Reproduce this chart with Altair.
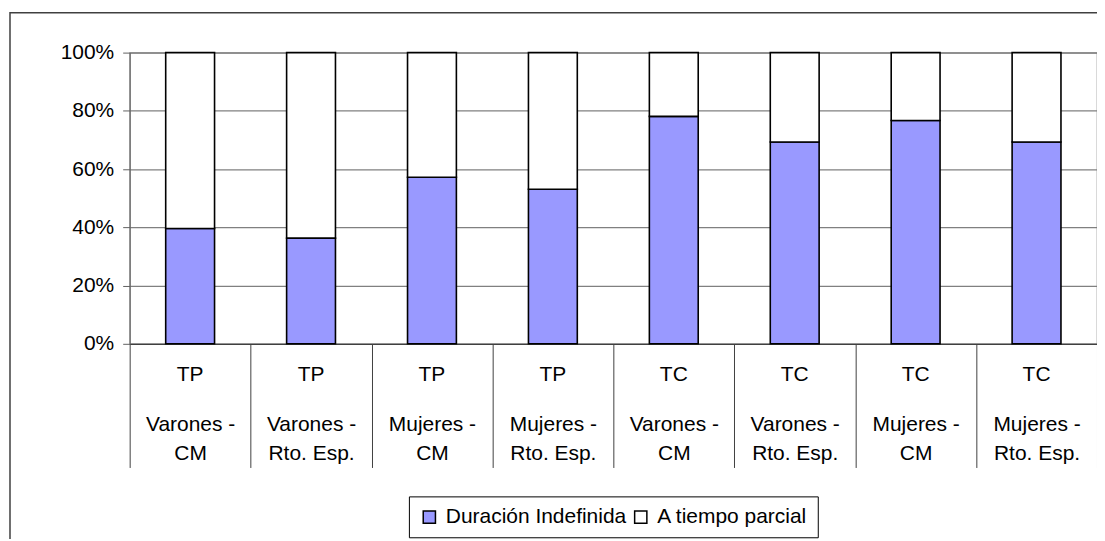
import altair as alt
import pandas as pd

# --- data ---
jornada = ["TP", "TP", "TP", "TP", "TC", "TC", "TC", "TC"]
colectivo = ["Varones -", "Varones -", "Mujeres -", "Mujeres -",
             "Varones -", "Varones -", "Mujeres -", "Mujeres -"]
regimen = ["CM", "Rto. Esp.", "CM", "Rto. Esp.", "CM", "Rto. Esp.", "CM", "Rto. Esp."]
duracion_indefinida = [39.6, 36.3, 57.2, 53.1, 78.1, 69.3, 76.7, 69.3]
tiempo_parcial = [60.4, 63.7, 42.8, 46.9, 21.9, 30.7, 23.3, 30.7]
series = ["Duración Indefinida", "A tiempo parcial"]
colors = ["#9999FF", "#FFFFFF"]
y_ticks = [0, 20, 40, 60, 80, 100]

# category key: "<jornada>#<colectivo>|<regimen>"
categories = [f"{j}#{c}|{r}" for j, c, r in zip(jornada, colectivo, regimen)]

rows = []
for cat, d, p in zip(categories, duracion_indefinida, tiempo_parcial):
    rows.append({"cat": cat, "serie": series[0], "valor": d, "orden": 0})
    rows.append({"cat": cat, "serie": series[1], "valor": p, "orden": 1})
df = pd.DataFrame(rows)
df_jornada = pd.DataFrame({"cat": categories, "jornada": jornada})

W, H = 970, 292
FONT = "Liberation Sans"
FS = 21

x_enc = alt.X("cat:N", sort=categories,
              scale=alt.Scale(paddingInner=0, paddingOuter=0),
              axis=alt.Axis(title=None, labelAngle=0, tickBand="extent",
                            tickSize=124, tickColor="#404040", tickWidth=1,
                            domainColor="#404040", domainWidth=1.2,
                            labelExpr="isValid(datum.value) ? split(split(datum.value, '#')[1], '|') : ''",
                            labelFont=FONT, labelFontSize=FS, labelColor="black",
                            labelLineHeight=29, labelPadding=-54,
                            labelBaseline="top", grid=False))

frame = alt.Chart(alt.Data(values=[{"f": 1}])).mark_rect(
    fill=None, stroke="#404040", strokeWidth=1.5
).encode(
    x=alt.value(-120), x2=alt.value(3000), y=alt.value(-40), y2=alt.value(3000)
)

bars = alt.Chart(df).mark_bar(
    stroke="black", strokeWidth=1.6, width=alt.RelativeBandSize(0.404)
).encode(
    x=x_enc,
    y=alt.Y("valor:Q", stack="zero",
            scale=alt.Scale(domain=[0, 100], nice=False),
            axis=alt.Axis(title=None, values=y_ticks,
                          labelExpr="datum.value + '%'",
                          labelFont=FONT, labelFontSize=FS, labelColor="black",
                          labelPadding=9, tickSize=7, tickColor="#606060",
                          domainColor="#606060", grid=True,
                          gridColor="#808080", gridWidth=1.2)),
    color=alt.Color("serie:N",
                    scale=alt.Scale(domain=series, range=colors),
                    legend=alt.Legend(title=None, orient="none",
                                      legendX=280, legendY=445,
                                      direction="horizontal",
                                      strokeColor="black", fillColor="white",
                                      padding=10, symbolType="square",
                                      symbolSize=150, symbolStrokeColor="black",
                                      symbolStrokeWidth=1.5,
                                      labelFont=FONT, labelFontSize=FS,
                                      labelColor="black", labelLimit=400,
                                      columnPadding=4,
                                      symbolOffset=0, labelOffset=6)),
    order=alt.Order("orden:Q"),
)

jornada_text = alt.Chart(df_jornada).mark_text(
    font=FONT, fontSize=FS, color="black", baseline="middle", align="center"
).encode(
    x=alt.X("cat:N", sort=categories),
    y=alt.value(H + 31),
    text="jornada:N",
)

chart = alt.layer(frame, bars, jornada_text).properties(
    width=W, height=H,
    autosize=alt.AutoSizeParams(type="none"),
    padding={"left": 122, "top": 44, "right": 0, "bottom": 195},
    background="white",
).configure_view(stroke="#808080", strokeWidth=1.2)

chart.save("out.html", embed_options={"renderer": "svg", "actions": False})
